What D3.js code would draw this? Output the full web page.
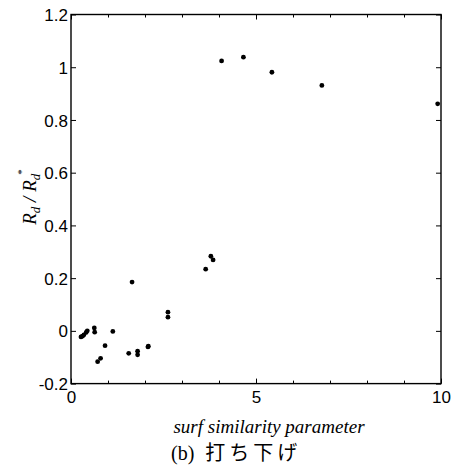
<!DOCTYPE html>
<html>
<head>
<meta charset="utf-8">
<script src="https://cdn.jsdelivr.net/npm/d3@7"></script>
<style>
    body { margin: 0; background: #fff; }
    svg { display: block; }
    .sans { font-family: 'Liberation Sans', Arial, sans-serif; }
    .serif { font-family: 'Liberation Serif', 'Times New Roman', serif; }
    .cjk { font-family: 'Noto Sans CJK JP', sans-serif; }
</style>
</head>
<body>
<div id="chart"></div>
<script>
//surf similarity parameter of each run
var surfParams = [0.27, 0.31, 0.35, 0.41, 0.44, 0.63, 0.64, 0.72, 0.80, 0.92,
    1.13, 1.56, 1.65, 1.80, 1.80, 2.08, 2.09, 2.62, 2.62, 3.64,
    3.78, 3.84, 4.07, 4.66, 5.43, 6.78, 9.91];

//measured Rd / Rd* of each run
var ratioValues = [-0.023, -0.020, -0.015, -0.006, 0.000, 0.011, -0.005, -0.117, -0.104, -0.056,
    -0.002, -0.085, 0.185, -0.077, -0.091, -0.061, -0.058, 0.071, 0.052, 0.234,
    0.283, 0.269, 1.024, 1.038, 0.981, 0.931, 0.861];

//tick values and labels
var xTickValues = [0, 5, 10];
var xTickLabels = ['0', '5', '10'];
var xMinorTicks = [1, 2, 3, 4, 6, 7, 8, 9];
var yTickValues = [-0.2, 0, 0.2, 0.4, 0.6, 0.8, 1, 1.2];
var yTickLabels = ['-0.2', '0', '0.2', '0.4', '0.6', '0.8', '1', '1.2'];

//chart frame
var width = 459,
    height = 472,
    plot = { left: 71, top: 14.5, right: 441, bottom: 383.6 };

var svg = d3.select('#chart').append('svg')
    .attr('width', width)
    .attr('height', height);

//scales
var xScale = d3.scaleLinear().domain([0, 10]).range([plot.left, plot.right]);
var yScale = d3.scaleLinear().domain([-0.2, 1.2]).range([plot.bottom, plot.top]);

//draws one side of the box with inward ticks
var drawAxis = function (axisFn, translate, showLabels) {
    var g = svg.append('g')
        .attr('transform', translate)
        .call(axisFn);
    g.attr('font-family', null).attr('font-size', null);
    g.select('.domain').remove();
    g.selectAll('line').attr('stroke', '#000').attr('stroke-width', 1);
    if (!showLabels)
        g.selectAll('text').remove();
    else
        g.selectAll('text')
            .attr('class', 'sans')
            .attr('font-size', 17)
            .attr('fill', '#000');
    return g;
};

//bottom axis major and minor ticks
drawAxis(d3.axisTop(xScale).tickValues(xMinorTicks).tickSize(3), 'translate(0,' + plot.bottom + ')', false);
var xAxisG = drawAxis(d3.axisTop(xScale).tickValues(xTickValues).tickSize(5)
    .tickFormat(function (d, i) { return xTickLabels[i]; }), 'translate(0,' + plot.bottom + ')', true);
xAxisG.selectAll('text').attr('y', 19.5).attr('dy', 0);

//top axis ticks
drawAxis(d3.axisBottom(xScale).tickValues(xMinorTicks).tickSize(3), 'translate(0,' + plot.top + ')', false);
drawAxis(d3.axisBottom(xScale).tickValues(xTickValues).tickSize(5), 'translate(0,' + plot.top + ')', false);

//left axis ticks and labels
var yAxisG = drawAxis(d3.axisRight(yScale).tickValues(yTickValues).tickSize(5)
    .tickFormat(function (d, i) { return yTickLabels[i]; }), 'translate(' + plot.left + ',0)', true);
yAxisG.selectAll('text')
    .attr('x', -3)
    .attr('text-anchor', 'end')
    .attr('dy', '0.36em');

//right axis ticks
drawAxis(d3.axisLeft(yScale).tickValues(yTickValues).tickSize(5), 'translate(' + plot.right + ',0)', false);

//plot frame
svg.append('rect')
    .attr('x', plot.left)
    .attr('y', plot.top)
    .attr('width', plot.right - plot.left)
    .attr('height', plot.bottom - plot.top)
    .attr('fill', 'none')
    .attr('stroke', '#000')
    .attr('stroke-width', 1.4);

//data points
svg.append('g').selectAll('circle')
    .data(surfParams)
    .enter().append('circle')
    .attr('cx', function (d) { return xScale(d); })
    .attr('cy', function (d, i) { return yScale(ratioValues[i]); })
    .attr('r', 2.4)
    .attr('fill', '#000');

//x axis title
svg.append('text')
    .attr('class', 'serif')
    .attr('x', 269)
    .attr('y', 433)
    .attr('text-anchor', 'middle')
    .attr('font-style', 'italic')
    .attr('font-size', 19)
    .text('surf similarity parameter');

//y axis title
var yTitle = svg.append('text')
    .attr('class', 'serif')
    .attr('transform', 'translate(36,197) rotate(-90)')
    .attr('text-anchor', 'middle')
    .attr('font-style', 'italic')
    .attr('font-size', 19);
yTitle.append('tspan').text('R');
yTitle.append('tspan').attr('font-size', 13).attr('dy', 4).text('d');
yTitle.append('tspan').attr('dy', -4).text(' / R');
yTitle.append('tspan').attr('font-size', 13).attr('dy', 4).text('d');
yTitle.append('tspan').attr('font-size', 11).attr('dy', -15).attr('dx', -1).attr('font-style', 'normal').text('*');

//caption
var caption = svg.append('text')
    .attr('x', 171)
    .attr('y', 460)
    .attr('font-size', 20);
caption.append('tspan')
    .attr('class', 'serif')
    .text('(b)');
caption.append('tspan')
    .attr('class', 'cjk')
    .attr('dx', 11)
    .attr('letter-spacing', 4)
    .attr('font-size', 20)
    .text('打ち下げ');
</script>
</body>
</html>
